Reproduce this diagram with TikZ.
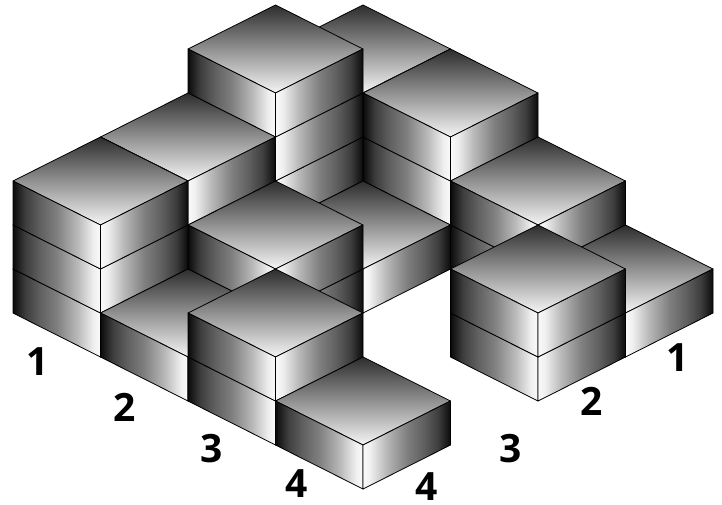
\documentclass[tikz,border=0pt]{standalone}
\usepackage{fontspec}
\usepackage{xcolor}
\setmainfont{Open Sans}
\definecolor{cubeTopDark}{RGB}{45,45,45}
\definecolor{cubeTopMid}{RGB}{140,140,140}
\definecolor{cubeTopLight}{RGB}{245,245,245}
\pgfdeclarehorizontalshading{faceleft}{100bp}{color(0bp)=(black!96); color(25bp)=(black!96); color(32bp)=(black!76); color(40bp)=(black!63); color(50bp)=(black!50); color(62bp)=(black!27); color(71bp)=(black!6); color(75bp)=(black!2); color(100bp)=(black!2)}
\pgfdeclarehorizontalshading{faceright}{100bp}{color(0bp)=(black!2); color(25bp)=(black!2); color(29bp)=(black!6); color(38bp)=(black!27); color(50bp)=(black!50); color(60bp)=(black!63); color(68bp)=(black!76); color(75bp)=(black!96); color(100bp)=(black!96)}
\newcommand{\blockcube}[3]{%
  \shadedraw[topface] (#1,#2,#3) -- (#1+1,#2,#3) -- (#1+1,#2+1,#3) -- (#1,#2+1,#3) -- cycle;
  \shadedraw[leftface] (#1,#2,#3) -- (#1+1,#2,#3) -- (#1+1,#2,#3-1) -- (#1,#2,#3-1) -- cycle;
  \shadedraw[rightface] (#1+1,#2,#3) -- (#1+1,#2+1,#3) -- (#1+1,#2+1,#3-1) -- (#1+1,#2,#3-1) -- cycle;
}
\begin{document}
\begin{tikzpicture}[
      x=1pt, y=-1pt,
      topface/.style={draw=black, line width=0.8pt, line join=round, top color=cubeTopDark, middle color=cubeTopMid, bottom color=cubeTopLight},
      leftface/.style={draw=black, line width=0.8pt, line join=round, shading=faceleft},
      rightface/.style={draw=black, line width=0.8pt, line join=round, shading=faceright},
      count/.style={font=\fontsize{39}{39}\selectfont\bfseries, text=black, inner sep=0pt}
    ]
    \useasboundingbox (0,0) rectangle (722,504);
    \begin{scope}[shift={(13,313)}, x={(87.5pt,-44pt)}, y={(87.5pt,44pt)}, z={(0pt,44pt)}]
      % back row first, so nearer stacks cover it
      \foreach \col/\row/\tall in {0/3/3, 1/3/3, 2/3/2, 3/3/1,
                                   0/2/4, 1/2/1, 3/2/2,
                                   0/1/3, 1/1/2,
                                   0/0/3, 1/0/1, 2/0/2, 3/0/1} {
        \foreach \lev in {1,...,\tall} {
          \blockcube{\col}{\row}{\lev}
        }
      }
    \end{scope}
    \node[count] (left1) at (38,362) {1};
    \node[count] (left2) at (125,407) {2};
    \node[count] (left3) at (212,449) {3};
    \node[count] (left4) at (297,484) {4};
    \node[count] (right1) at (678,358) {1};
    \node[count] (right2) at (592,401) {2};
    \node[count] (right3) at (511,449) {3};
    \node[count] (right4) at (427,487) {4};
  \end{tikzpicture}
\end{document}
